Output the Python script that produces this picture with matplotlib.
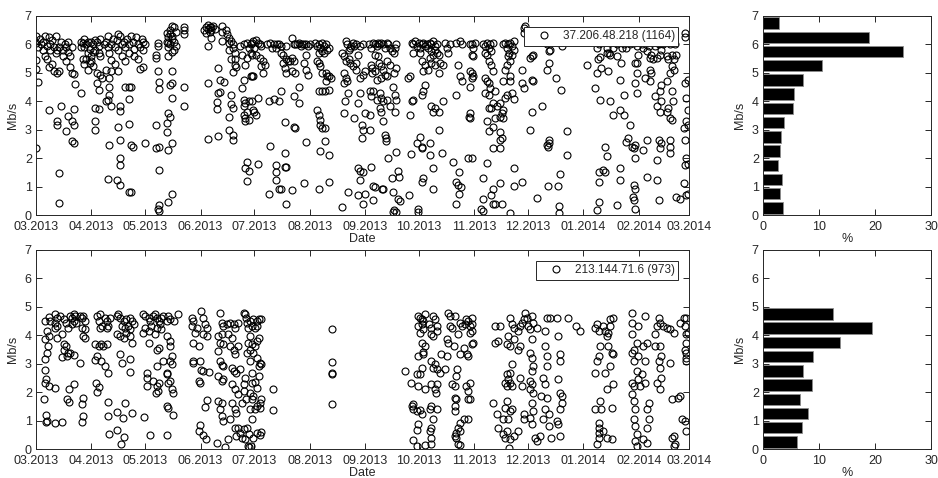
import numpy as np
import matplotlib
matplotlib.use("Agg")
import matplotlib.pyplot as plt
import matplotlib.dates as mdates

plt.rcParams['font.family'] = ['Liberation Sans', 'DejaVu Sans']
plt.rcParams['font.size'] = 9

START = np.datetime64('2013-03-01')
END = np.datetime64('2014-03-01')

# (days since 01.03.2013, Mb/s) for host 37.206.48.218
top_points = [
    # 03.2013
    (0, 6.3), (0, 6.05), (1, 5.9), (0, 5.45), (0, 5.15), (1, 4.67), (0, 2.37),
    (2, 6.2), (3, 6.0), (4, 6.1), (4, 5.8), (5, 5.6), (5, 6.3), (6, 5.95), (6, 5.5), (7, 6.25), (7, 5.2),
    (8, 5.8), (8, 6.0), (9, 6.15), (9, 5.3), (10, 5.9), (10, 5.05), (11, 6.3), (11, 5.7), (12, 5.0),
    (12, 5.8), (13, 5.9), (13, 5.05), (14, 6.1), (15, 5.6), (15, 5.8), (16, 6.0), (17, 5.9), (17, 5.4),
    (18, 6.1), (18, 5.75), (19, 5.6), (19, 5.2), (20, 5.9), (20, 5.0), (21, 4.95), (22, 4.6),
    (7, 3.7), (12, 3.3), (12, 3.15), (14, 3.85), (13, 1.47), (13, 0.42), (17, 2.95), (18, 3.5), (20, 3.3),
    (21, 3.15), (21, 3.72), (20, 2.62), (21, 2.55), (25, 4.28),
    (25, 6.1), (25, 5.9), (26, 6.05), (27, 5.9), (27, 6.2), (28, 6.0), (29, 6.1), (29, 5.7), (30, 5.85),
    (28, 5.5), (26, 5.5), (27, 5.3), (29, 5.1), (30, 5.35), (31, 5.6),
    # 04.2013
    (31, 5.41), (32, 5.23), (34, 5.0), (36, 4.94), (39, 5.11), (37, 4.82), (34, 4.64), (35, 4.4), (41, 4.82),
    (33, 3.76), (35, 3.73), (33, 3.29), (33, 3.0), (41, 4.49), (41, 4.23), (40, 4.05), (39, 4.0), (42, 3.82),
    (47, 3.85), (47, 3.66), (50, 4.52), (52, 4.52), (53, 4.49), (52, 4.09), (46, 3.09), (47, 2.64), (41, 2.46),
    (52, 3.2), (53, 2.46), (54, 2.4), (61, 2.52), (47, 2.0), (47, 1.76), (40, 1.28), (45, 1.22), (47, 1.05),
    (52, 0.81), (53, 0.8),
    (38, 6.0), (39, 6.1), (40, 5.9), (40, 6.3), (41, 5.7), (42, 6.0), (42, 5.45), (43, 6.2), (44, 5.9),
    (45, 6.15), (46, 6.35), (46, 5.8), (47, 6.3), (48, 6.0), (48, 5.6), (49, 6.1), (50, 5.9), (51, 6.2),
    (52, 6.0), (52, 5.7), (53, 6.3), (54, 6.1), (55, 5.85), (56, 6.25), (57, 6.0), (58, 5.9), (59, 6.2),
    (60, 6.1), (60, 5.8), (61, 6.0), (44, 5.3), (46, 5.05), (50, 5.4), (42, 5.05), (55, 5.6), (57, 5.5),
    (58, 5.15), (60, 5.2), (32, 6.0), (33, 5.8), (34, 6.1), (35, 5.95), (36, 6.2), (33, 6.15), (35, 5.7),
    (36, 5.6), (31, 6.1), (32, 5.75),
    # 05.2013
    (67, 5.52), (67, 5.64), (68, 6.05), (68, 5.94), (68, 5.08), (69, 4.68), (69, 4.44), (67, 3.15), (67, 2.34),
    (69, 2.4), (69, 1.58), (68, 0.22), (69, 0.13), (69, 0.34), (74, 0.46), (76, 0.75), (74, 2.29), (73, 2.91),
    (73, 3.23), (75, 3.43), (74, 3.58), (76, 2.54), (76, 4.13), (76, 4.64), (75, 4.58), (76, 5.05), (83, 4.52),
    (83, 3.85),
    (73, 6.1), (73, 6.4), (74, 6.25), (74, 5.9), (75, 6.5), (75, 6.0), (76, 6.65), (76, 6.3), (77, 6.1),
    (77, 5.8), (78, 6.45), (78, 5.95), (74, 5.6), (76, 5.75), (77, 6.6), (76, 6.2), (75, 6.35), (74, 6.05),
    (83, 6.5), (83, 6.35), (83, 6.6),
    # 06.2013
    (95, 6.6), (96, 6.55), (96, 6.7), (97, 6.6), (98, 6.5), (97, 6.45), (99, 6.65), (95, 6.4), (100, 6.55),
    (98, 6.6), (94, 6.5), (96, 5.94), (98, 6.23), (96, 4.64), (96, 2.67),
    (102, 5.17), (103, 4.76), (105, 4.68), (102, 4.29), (103, 4.32), (101, 3.97), (101, 3.72), (102, 2.79),
    (104, 6.64), (104, 6.44), (106, 6.52), (107, 6.37), (104, 6.11), (108, 6.05), (109, 6.11), (110, 6.0),
    (108, 6.23), (110, 5.88), (108, 5.82),
    (109, 5.47), (111, 5.47), (111, 5.29), (110, 5.03), (109, 4.23), (109, 3.9), (110, 3.76), (108, 3.46),
    (108, 3.0), (110, 2.82), (110, 2.64),
    (116, 4.76), (115, 4.46), (116, 4.05), (117, 3.93), (116, 3.82), (116, 3.52), (117, 3.4), (119, 3.34),
    (117, 3.29), (118, 3.64), (119, 4.0), (118, 1.87), (117, 1.67), (119, 1.54), (118, 1.2),
    (114, 5.94), (116, 6.0), (115, 5.64), (118, 6.05), (119, 5.88), (120, 6.0), (120, 5.7), (121, 6.05),
    (117, 5.29), (118, 5.52), (112, 5.2), (120, 4.88), (121, 4.88), (111, 5.7),
    # 07.2013
    (121.5, 6.11), (123, 6.17), (124, 6.05), (125, 6.0), (122, 5.88), (120.5, 5.64), (123, 5.64),
    (126, 5.94), (125, 5.52), (127, 5.41), (126, 5.23), (128, 5.29), (127, 5.0), (121.5, 4.88), (129, 6.0),
    (131, 6.05), (132, 5.88), (133, 6.0), (134, 5.88), (134.5, 6.0), (136, 6.0), (137, 5.94), (137, 5.7),
    (138, 5.64), (138, 5.35), (139, 5.17), (140, 5.47), (141, 5.41), (142, 5.41), (143, 5.52), (144, 5.41),
    (140, 5.0), (143, 5.05), (145, 5.0), (145, 6.0), (146, 6.0), (147, 6.05), (148, 5.94), (148.5, 6.0),
    (144, 6.0), (143, 6.23), (140, 5.94), (150, 6.0), (151, 6.0), (152, 5.94), (151, 5.64), (150, 5.35),
    (151, 5.11), (152, 4.94), (153, 6.0),
    (120.5, 4.0), (121.5, 3.7), (122, 3.64), (123, 3.52), (124, 4.13), (130, 4.0), (133, 4.09), (136, 4.02),
    (137, 4.35), (139, 3.26), (144, 3.11), (144.5, 3.05), (144, 4.17), (147, 3.93), (147, 4.49),
    (124, 1.78), (134, 1.76), (134, 1.5), (134, 1.22), (131, 2.44), (139, 2.17), (139, 1.7), (140, 1.7),
    (136, 0.91), (137, 0.93), (143, 0.87), (140, 0.37), (130, 0.75), (151, 2.56), (150, 1.14),
    # 08.2013
    (156, 6.05), (157, 5.94), (158, 6.0), (159, 5.88), (160, 6.05), (161, 5.94), (162, 6.0), (162.5, 5.82),
    (164, 5.88), (158, 5.7), (160, 5.76), (161, 5.7), (158, 5.35), (159, 5.23), (162, 5.0), (160, 5.0),
    (162.5, 4.88), (162, 4.7), (164, 4.88), (165, 4.82), (157, 5.41),
    (158, 4.35), (160, 4.35), (161.5, 4.35), (164, 4.4), (157, 3.7), (158, 3.52), (158.5, 3.35), (159, 3.17),
    (160, 3.05), (161.5, 3.05), (159, 2.25), (161.5, 2.6), (164, 2.11), (164, 1.17), (158, 0.93),
    (171, 5.7), (172, 5.58), (173, 6.11), (174, 6.0), (175, 5.82), (175.5, 5.88), (176, 5.94), (177, 6.05),
    (178, 5.94), (179, 6.0), (180, 5.64), (179, 5.35), (181, 5.94), (183, 6.0), (173, 5.41), (175, 5.47),
    (172, 5.0), (173, 4.82), (175.5, 5.35), (177, 5.23), (179, 5.11), (181, 4.82), (183, 4.94), (184, 5.05),
    (172, 4.64), (174, 4.7),
    (174.5, 4.29), (172.5, 4.0), (172, 3.58), (181, 4.29), (180, 3.93), (178, 3.4), (182, 3.17), (182.5, 2.99),
    (182, 2.72), (180, 1.64), (181, 1.54), (183, 1.52), (181, 1.22), (174.5, 0.81), (180, 0.69), (183, 0.4),
    (171, 0.28),
    # 09.2013
    (186, 6.0), (187, 5.88), (188.5, 6.05), (189.5, 6.0), (190.5, 5.94), (191, 6.05), (192, 6.0), (193, 6.05),
    (194, 6.0), (195, 5.88), (196, 6.05), (197, 6.0), (198, 5.88), (199, 5.76), (200, 5.7), (200.5, 5.88),
    (201.5, 6.0), (189.5, 5.64), (191, 5.58), (192, 5.35), (193, 5.23), (194, 5.11), (195, 4.94), (196, 4.88),
    (187, 5.29), (188, 5.17), (189.5, 5.05), (190.5, 4.76), (193, 4.82), (196, 5.41), (198, 5.29), (200, 5.0),
    (201.5, 5.17), (188, 5.0),
    (186.5, 4.35), (187.5, 4.17), (188.5, 4.35), (190.5, 4.05), (192.5, 4.29), (193, 4.11), (194, 4.0),
    (196, 4.05), (199.5, 4.52), (200.5, 4.23), (201.5, 4.05), (192.5, 3.76), (193, 3.64), (198, 3.82),
    (200.5, 3.64), (184, 3.58), (186.5, 3.52), (194, 3.29), (186.5, 2.99), (195, 2.82), (195.5, 2.72),
    (195.5, 2.6), (196.5, 1.99), (201.5, 2.23), (202.5, 1.54), (203, 1.34), (199, 1.31), (193.5, 0.93),
    (194, 0.9), (189.5, 0.99), (188.5, 1.01), (187.5, 1.7), (184, 0.75), (188.5, 0.52), (199.5, 0.81),
    (202.5, 0.58), (203.5, 0.48), (199.5, 0.11), (200, 0.16), (201.5, 0.11), (208.5, 0.69), (213.5, 0.2),
    (213.5, 0.11), (215.5, 1.17), (216.5, 1.31), (209.5, 2.13), (214.5, 2.76), (215.5, 2.4), (216, 2.34),
    (220, 2.52),
    # 10.2013
    (210, 6.05), (211, 6.0), (212, 6.11), (213, 5.94), (214, 6.05), (214.5, 5.88), (215.5, 6.0), (216.5, 6.05),
    (217.5, 5.94), (218.5, 6.0), (219, 5.88), (220, 6.05), (221, 6.0), (222, 6.11), (223, 5.94), (224, 6.0),
    (221, 5.76), (222, 5.64), (223, 5.82), (224, 5.7), (220, 5.52), (214.5, 5.7), (215.5, 5.41), (217.5, 5.29),
    (221, 5.35), (223, 5.29), (225, 5.64), (226, 5.35), (227.5, 5.29), (211, 5.7), (216.5, 5.05), (219, 5.11),
    (225, 5.0), (208, 4.82), (209, 4.88), (217.5, 4.58), (216.5, 4.35), (215.5, 4.23), (210, 4.0), (211, 4.05),
    (221, 3.82), (222, 3.64), (225, 3.64), (227.5, 4.0), (223, 3.76),
    (209, 3.52), (213, 2.52), (220, 2.11), (222, 1.64), (222, 0.93), (225, 2.99), (227, 2.17),
    (228.5, 6.05), (229.5, 5.88), (231.5, 6.0), (230.5, 5.7),
    # 11.2013
    (235, 6.05), (237, 6.11), (238, 6.0), (242.5, 6.0), (243.5, 5.64), (236, 5.29), (237, 4.88), (238, 4.7),
    (242.5, 5.05), (243.5, 4.82), (242.5, 4.52), (235, 4.23), (242.5, 3.58), (242, 3.43), (233, 1.87),
    (236.5, 1.52), (235, 1.17), (236, 1.05), (237.5, 0.99), (236.5, 0.75), (235, 0.37), (241.5, 1.99),
    (243.5, 6.0), (244.5, 5.88), (245.5, 6.05), (244.5, 5.58), (243.5, 5.0), (244.5, 4.88), (250, 6.0),
    (251, 5.94), (252, 6.05), (253, 5.88), (254, 6.0), (254.5, 5.76), (255.5, 6.05), (251, 5.7), (252, 5.64),
    (253, 5.41), (254.5, 5.29), (255.5, 5.05), (251, 4.82), (252, 4.7), (253, 4.64), (254, 4.46), (251, 4.29),
    (253, 4.23), (256.5, 4.35), (255.5, 3.93), (261, 6.0), (262, 6.05), (263, 5.88), (264, 6.0), (265, 6.05),
    (266, 5.94), (264.5, 5.7), (264, 5.58), (265, 5.41), (266, 5.64), (267, 5.82), (263, 5.29), (262, 5.11),
    (265, 4.88), (267, 6.11), (272.5, 6.58), (273.5, 6.64), (272.5, 6.41), (271.5, 5.11), (271.5, 4.64),
    (272.5, 4.46), (265, 4.7), (261, 4.7), (263, 4.23), (266, 4.29), (267, 4.09), (262, 4.11), (259.5, 3.93),
    (242.5, 3.4), (253, 3.76), (254.5, 3.76), (257.5, 3.82), (260.5, 3.58), (261, 3.7), (256.5, 3.4),
    (259.5, 3.46), (261, 3.4), (252, 3.29), (253, 2.96), (255.5, 3.11), (259.5, 2.93), (260.5, 2.7),
    (259.5, 2.37), (255.5, 2.34), (259.5, 2.64), (267, 1.64), (267, 1.02), (271.5, 1.17), (259.5, 1.11),
    (255.5, 0.91), (254.5, 0.69), (255.5, 0.37), (256.5, 0.37), (260.5, 0.37), (250, 0.58), (249, 0.22),
    (250, 0.14), (243.5, 1.99), (252, 1.84), (250, 1.31), (265, 0.08),
    # 12.2013
    (277, 5.58), (276, 5.52), (278, 5.64), (277, 4.76), (278, 4.7), (277, 3.64), (276, 2.99), (285.5, 6.0),
    (286.5, 5.76), (287.5, 5.82), (294, 5.94), (285.5, 5.11), (286.5, 5.35), (290.5, 4.82), (293.5, 4.4),
    (283, 3.85), (297, 2.97), (297, 2.11), (293, 1.43), (291.5, 1.02), (286, 1.02), (285.5, 2.46),
    (286.5, 2.52), (286, 2.4), (286.5, 2.64), (280, 0.6), (292.5, 0.31), (292.5, 0.07),
    # 01.2014
    (308, 5.29), (313.5, 5.0), (314, 5.47), (315.5, 5.56), (319, 5.7), (320.5, 5.7), (321, 5.64), (324.5, 5.58),
    (327, 5.35), (316, 5.17), (320, 5.05), (312.5, 4.46), (315.5, 4.05), (321, 4.0), (322.5, 3.52), (326.5, 3.7),
    (328.5, 3.52), (328.5, 4.23), (326.5, 4.76), (332, 3.17), (330, 2.58), (331, 2.7), (333, 2.4), (334, 2.34),
    (335, 2.46), (335, 1.99), (336, 5.35), (335, 5.35), (336, 5.0), (335, 4.64), (336, 4.29), (336.5, 5.64),
    (336, 5.94), (334, 6.05), (332, 6.0), (330, 5.88), (328.5, 6.0), (327.5, 5.88), (326.5, 6.11), (324.5, 6.0),
    (322.5, 5.88), (321, 6.05), (319, 5.88), (314.5, 6.0), (313.5, 5.88), (318, 2.4), (319, 2.08), (314.5, 1.52),
    (317, 1.58), (318, 1.52), (314.5, 1.17), (314.5, 0.46), (313.5, 0.16), (326.5, 1.64), (326.5, 1.22),
    (334, 1.05), (335, 0.93), (333.5, 0.64), (334.5, 0.52), (335, 0.22), (324.5, 0.34),
    # 02.2014
    (338.5, 6.0), (339.5, 5.88), (340.5, 6.05), (341.5, 5.76), (342.5, 5.94), (343, 5.52), (344, 5.64),
    (345, 5.47), (346, 5.94), (347, 5.52), (348, 6.0), (349, 5.64), (349.5, 5.82), (350.5, 6.0), (352.5, 5.58),
    (353.5, 5.47), (354.5, 6.0), (355.5, 5.64), (356.5, 5.47), (357, 6.0), (358, 5.64), (354.5, 5.0),
    (356.5, 5.11), (355.5, 5.23), (343, 5.11), (344, 5.0), (340.5, 4.82), (343, 4.7), (349.5, 4.58),
    (352.5, 4.7), (363, 4.64), (364.5, 4.76), (363.5, 4.11), (364.5, 3.7), (363.5, 3.29), (364.5, 3.17),
    (362, 3.05), (363, 2.64), (363.5, 1.99), (364.5, 1.81), (363, 1.76), (362, 1.11), (363.5, 0.69),
    (364.5, 0.75), (358, 0.64), (360, 0.58), (363, 6.41), (363, 6.25),
    (347, 3.82), (349, 3.64), (349.5, 4.0), (352.5, 3.64), (353.5, 3.76), (354.5, 3.4), (355.5, 3.34),
    (346, 4.17), (349, 4.35), (355.5, 4.35), (356, 4.0), (348, 2.64), (349.5, 2.52), (354.5, 2.64),
    (354.5, 2.4), (354.5, 2.17), (349, 2.34), (347, 1.93), (341.5, 2.64), (339.5, 2.29), (341.5, 1.34),
    (347, 1.22), (348, 0.52),
]

# (days since 01.03.2013, Mb/s) for host 213.144.71.6
bottom_points = [
    # 03.2013
    (5, 4.5), (7, 4.65), (8, 4.5), (10.5, 4.74), (11.5, 4.62), (10.5, 4.44), (10.5, 4.27), (11.5, 4.33),
    (13.5, 4.68), (15.5, 4.56), (17, 4.44), (18, 4.27), (19, 4.68), (20, 4.62), (21, 4.74), (21, 4.5),
    (22, 4.68), (20, 4.38), (22.5, 4.44), (24.5, 4.68), (25.5, 4.62), (26.5, 4.68), (27.5, 4.5), (25.5, 4.27),
    (27.5, 4.21), (26.5, 3.97), (27.5, 3.91),
    (6, 4.15), (7, 3.97), (5, 3.86), (6.5, 3.62), (6, 3.39), (5, 3.15), (5, 2.78), (5.5, 2.45), (5, 2.33),
    (7, 2.22), (10.5, 2.16), (4.5, 1.77), (5.5, 1.18), (5.5, 0.96), (6, 0.98), (10.5, 0.93), (14.5, 0.96),
    (11.5, 3.92), (14.5, 4.03), (15.5, 3.68), (15.5, 3.5), (14.5, 3.24), (17, 3.62), (18, 3.39), (19, 3.36),
    (21, 3.29), (17.5, 3.27), (18.5, 2.1), (21, 2.27), (17.5, 1.77), (18.5, 1.65), (24.5, 3.04), (26.5, 1.8),
    (25.5, 1.57), (26.5, 1.16), (25.5, 0.96),
    # 04.2013
    (34, 4.68), (35, 4.5), (36, 4.74), (37, 4.33), (38.5, 4.62), (39.5, 4.5), (41.5, 4.62), (40.5, 4.33),
    (45, 4.68), (46, 4.74), (47, 4.62), (49, 4.5), (50.5, 4.56), (52.5, 4.62), (53.5, 4.5), (48, 4.33),
    (49.5, 4.27), (51.5, 4.33), (52.5, 4.21), (54.5, 4.38), (45, 4.03), (47, 3.97), (49, 3.92), (50.5, 4.09),
    (52.5, 3.97), (39.5, 4.27), (35.5, 4.27),
    (33, 3.68), (35, 3.62), (36.5, 3.68), (37.5, 3.62), (39.5, 3.68), (34, 3.27), (33, 3.13), (36.5, 3.1),
    (38.5, 2.92), (40, 2.68), (47, 3.33), (48, 3.04), (52.5, 3.15), (52.5, 2.71), (53.5, 3.74), (33.5, 2.33),
    (35, 2.19), (34, 2.02), (40, 1.65), (40.5, 1.16), (45.5, 1.31), (50, 1.61), (48.5, 1.1), (53.5, 1.25),
    (41, 0.52), (45.5, 0.66), (49, 0.43), (47.5, 0.16),
    # 05.2013
    (60, 4.74), (61, 4.68), (63, 4.62), (63.5, 4.5), (65.5, 4.68), (66.5, 4.74), (67.5, 4.62), (68.5, 4.5),
    (69.5, 4.38), (70, 4.62), (71, 4.68), (73, 4.5), (74, 4.68), (75, 4.56), (77, 4.5), (79.5, 4.74),
    (61, 4.27), (63, 4.15), (60, 4.09), (64.5, 4.33), (66.5, 4.03), (67.5, 4.27), (70, 4.21), (63, 3.74),
    (73, 3.97), (75, 3.8), (75, 3.62), (68.5, 3.56), (67.5, 3.5), (71, 3.1), (67.5, 2.92), (62, 2.68),
    (62, 2.51), (62, 2.22), (65.5, 2.39), (67.5, 2.22), (68, 2.04), (67, 1.98), (68.5, 2.33), (73, 2.68),
    (73.5, 2.63), (74, 2.33), (75, 2.39), (76, 2.1), (76.5, 1.98), (76, 3.27), (75, 3.1), (76, 2.98),
    (64, 0.48), (73.5, 0.48), (60.5, 1.14), (73.5, 1.51), (74, 1.45), (76.5, 1.18),
    # 06.2013
    (87, 4.62), (88, 4.5), (87, 4.33), (89, 4.09), (90, 4.27), (92.5, 4.85), (93.5, 4.62), (94.5, 4.38),
    (95.5, 4.27), (93.5, 4.03), (95.5, 3.97), (88, 3.74), (91, 3.62), (87.5, 3.1), (88, 3.01), (91.5, 3.1),
    (92.5, 2.78), (93.5, 2.74), (96.5, 2.71), (91, 2.39), (91.5, 2.33), (95.5, 1.72), (94.5, 1.48),
    (91.5, 0.83), (91, 0.63), (93.5, 0.48), (95, 0.36),
    (103, 4.8), (104, 4.44), (104.5, 4.33), (106.5, 4.38), (108.5, 4.44), (110.5, 4.38), (111, 4.27),
    (113, 4.44), (102, 3.97), (104, 4.03), (107.5, 4.03), (109.5, 3.92), (103, 3.74), (104.5, 3.68),
    (108.5, 3.62), (110.5, 3.5), (111, 3.33), (113, 3.62), (102, 3.45), (103, 3.1), (104, 2.94), (104.5, 2.92),
    (104, 2.39), (104.5, 2.45), (102, 2.57), (109.5, 2.86), (110.5, 2.74), (112, 2.68), (114, 2.8),
    (109.5, 2.27), (111, 2.1), (113, 1.92), (116, 2.27), (117, 2.51), (116, 2.04), (117.5, 1.75), (115, 1.63),
    (102, 1.69), (104, 1.63), (103, 1.4), (104, 1.16), (104.5, 0.98), (109.5, 1.63), (111, 1.4), (112, 1.28),
    (108.5, 1.04), (113, 0.75), (111, 0.75), (114, 0.57), (116, 0.69), (118, 0.75), (119, 0.52), (118.5, 0.11),
    (119, 0.07), (117, 0.34), (115, 0.4), (101, 0.22), (105.5, 0.07), (107.5, 0.34), (112, 0.46),
    (116, 4.8), (117, 4.74), (117.5, 4.62), (118, 4.44), (119.5, 4.5), (118.5, 4.27), (119.5, 3.97),
    (118.5, 3.74), (119.5, 3.5), (118, 3.39), (119.5, 3.1), (120.5, 2.68), (121, 2.33), (119.5, 1.98),
    (120.5, 1.75), (119.5, 1.4), (120.5, 1.04),
    # 07.2013
    (121.5, 4.56), (123.5, 4.5), (124.5, 4.56), (126, 4.58), (120.5, 4.33), (122.5, 4.27), (123.5, 4.33),
    (124.5, 3.92), (123.5, 3.8), (120.5, 3.68), (122.5, 3.62), (121.5, 3.39), (123.5, 3.21), (125, 3.04),
    (126, 2.98), (124.5, 2.92), (122.5, 2.36), (124.5, 2.57), (123.5, 2.16), (121.5, 1.86), (123.5, 1.51),
    (122.5, 1.4), (125, 1.63), (125, 1.45), (126, 1.75), (123.5, 0.57), (125, 0.48), (126, 0.6), (121.5, 0.4),
    (120, 0.1), (132.5, 2.1), (132.5, 1.36),
    # 08.2013
    (165.5, 4.21), (165.5, 3.07), (165.5, 2.68), (165.5, 2.63), (165.5, 1.59),
    # 10.2013
    (206, 2.74), (209.5, 2.31), (210, 1.51), (210.5, 1.6), (211, 1.4), (213, 1.34), (214.5, 1.37),
    (215.5, 1.22), (213.5, 2.22), (213, 2.63), (213.5, 0.87), (213, 0.67), (210.5, 0.32), (213, 0.11),
    (217.5, 0.13), (221, 0.16), (221, 0.4), (220, 0.63), (221, 0.75), (222, 1.04), (221, 1.51), (224, 1.4),
    (220, 1.4), (223, 2.1), (223.5, 1.98), (217.5, 2.1), (221, 2.27), (224, 2.27), (214.5, 2.63), (215.5, 2.86),
    (221, 3.1), (222, 2.86), (224, 2.83), (223, 2.98), (226, 2.68), (228.5, 2.8), (229.5, 3.27), (226.5, 3.33),
    (213.5, 3.27), (216.5, 3.33), (216.5, 3.41), (217.5, 3.62), (215.5, 3.74), (213.5, 4.68), (214.5, 4.62),
    (215.5, 4.56), (216.5, 4.5), (215.5, 4.38), (213.5, 4.33), (216.5, 4.21), (214.5, 4.09), (217.5, 4.74),
    (219.5, 4.38), (221, 4.27), (222, 4.68), (223, 4.56), (224, 4.33), (224, 4.15), (222, 3.97), (221, 4.03),
    (229.5, 3.86), (230.5, 4.8), (231.5, 4.68), (234, 4.68), (232.5, 4.27), (231.5, 4.33), (230.5, 3.74),
    (233.5, 3.62), (236, 4.03), (237, 4.44), (238, 4.33), (240, 4.38), (240.5, 4.56), (241.5, 4.5),
    (242.5, 4.33), (243.5, 4.62), (242.5, 4.09), (243.5, 3.68), (239, 3.56), (237, 3.33), (241.5, 3.27),
    (241, 3.33), (235.5, 2.8), (235, 2.57), (232.5, 2.27), (234, 2.22), (240.5, 2.22), (241.5, 2.04),
    (241.5, 1.75), (234, 1.8), (235, 1.75), (234, 1.51), (234, 1.34), (239, 1.04), (237, 0.93), (236, 0.75),
    (235, 0.57), (234, 0.46), (235, 0.4), (236, 0.16), (237, 0.13), (237, 0.63), (241.5, 1.04),
    # 11.2013
    (243.5, 4.38), (243.5, 4.15), (244, 3.74), (242.5, 2.33), (242.5, 1.75), (255.5, 1.63), (257.5, 1.22),
    (256.5, 3.74), (258.5, 3.8), (256.5, 4.33), (259.5, 4.33), (258.5, 0.75), (261, 0.52), (262, 0.4),
    (263, 0.63), (265, 0.34), (264.5, 0.05), (261, 1.04), (262, 1.45), (263, 1.69), (265, 1.34), (264, 1.04),
    (266, 1.4), (265, 4.62), (266, 4.38), (267, 4.27), (264, 3.97), (265, 3.62), (263, 3.68), (267, 3.86),
    (265, 2.68), (263, 2.63), (264, 2.45), (262, 2.33), (266, 2.98), (265, 2.33), (266, 2.22), (263, 2.22),
    (269.5, 4.15), (270.5, 4.33), (271.5, 4.44), (272.5, 4.56), (270.5, 3.62), (269.5, 3.5), (270.5, 2.51),
    (271.5, 2.22), (272.5, 1.22), (272.5, 1.04), (269.5, 0.63), (267, 0.46),
    # 12.2013
    (273.5, 4.8), (274.5, 4.62), (275, 4.33), (277, 4.68), (276, 4.21), (278, 4.44), (277, 3.86), (276, 3.39),
    (277, 3.21), (278, 2.92), (277, 2.74), (276, 2.39), (277, 2.27), (276, 2.1), (278, 1.98), (277, 1.63),
    (278, 1.34), (276, 1.1), (277, 0.87), (279, 0.4), (280, 0.28), (281.5, 0.46), (280, 4.27), (284.5, 4.15),
    (285.5, 4.62), (284.5, 3.62), (285.5, 3.27), (285.5, 2.92), (283.5, 2.51), (284.5, 2.27), (282.5, 1.86),
    (285.5, 1.8), (284.5, 1.4), (286.5, 1.22), (283.5, 1.04), (286.5, 0.81), (288, 0.4), (291, 4.62),
    (292, 3.97), (293, 3.33), (293, 3.1), (292, 2.45), (293, 1.98), (294, 1.86), (294, 1.63), (293, 1.4),
    (291, 0.98), (292, 0.87), (293, 0.46), (287.5, 4.62), (297.5, 4.62),
    # 01.2014
    (302, 4.33), (304, 4.15), (312.5, 4.27), (313.5, 4.38), (314.5, 4.15), (317, 4.33), (318, 4.15),
    (319, 3.97), (320, 4.09), (321, 4.56), (322.5, 4.62), (321, 4.33), (322, 3.39), (322.5, 3.33), (320, 3.62),
    (315.5, 3.62), (314.5, 3.27), (313.5, 3.1), (312.5, 2.68), (318, 2.68), (319, 2.1), (315.5, 1.69),
    (312.5, 1.4), (316, 1.4), (322, 1.45), (314.5, 0.93), (314.5, 0.75), (314.5, 0.57), (314.5, 0.4),
    (317, 0.63), (319, 0.4), (322, 0.34), (313.5, 0.16), (321, 2.92), (322.5, 2.27),
    # 02.2014
    (333, 4.8), (333, 4.44), (333, 4.03), (334, 3.5), (333, 3.39), (334, 3.1), (333, 2.33), (334, 2.22),
    (333, 1.92), (334, 1.69), (335, 1.4), (334, 1.04), (335, 0.81), (336, 0.52), (335, 0.28), (336, 0.11),
    (336.5, 4.33), (336, 3.74), (336.5, 3.27), (336, 2.74), (336.5, 2.45), (337.5, 2.22), (338.5, 2.63),
    (340.5, 2.33), (339.5, 3.62), (340.5, 3.1), (341.5, 3.74), (340.5, 4.68), (342.5, 1.63), (341.5, 1.4),
    (342.5, 1.04), (341.5, 0.75), (339.5, 0.34), (341.5, 0.22), (346, 4.03), (347, 4.33), (348, 4.62),
    (349, 4.44), (350.5, 4.33), (352.5, 4.27), (354.5, 4.21), (356.5, 4.09), (346, 3.62), (349, 3.62),
    (348, 3.1), (349.5, 3.27), (349, 2.86), (347, 2.33), (349, 2.1), (349.5, 2.51), (354.5, 3.04),
    (355.5, 1.75), (359, 1.8), (360, 1.86), (362, 4.62), (363.5, 4.62), (363, 4.33), (363.5, 4.03),
    (363.5, 3.74), (363, 3.5), (363.5, 3.39), (363.5, 3.21), (363.5, 3.1), (364.5, 4.09), (360, 4.44),
    (361, 1.04), (363, 0.98), (363.5, 0.63), (355.5, 0.4), (356.5, 0.46), (356.5, 0.11), (357, 0.16),
]

top_label = '37.206.48.218 (1164)'
bottom_label = '213.144.71.6 (973)'

# histogram bins (Mb/s, bin centres) and share of measurements (%)
hist_centres = [0.25, 0.75, 1.25, 1.75, 2.25, 2.75, 3.25, 3.75, 4.25, 4.75, 5.25, 5.75, 6.25, 6.75]
top_hist_pct = [3.6, 3.0, 3.4, 2.6, 3.1, 3.3, 3.8, 5.4, 5.6, 7.2, 10.6, 25.0, 18.9, 2.8]
bottom_hist_centres = [0.25, 0.75, 1.25, 1.75, 2.25, 2.75, 3.25, 3.75, 4.25, 4.75]
bottom_hist_pct = [6.1, 7.0, 8.1, 6.6, 8.8, 7.2, 9.0, 13.8, 19.4, 12.5]

AX_COLOR = '#262626'


def style_axes(ax):
    for s in ax.spines.values():
        s.set_color(AX_COLOR)
        s.set_linewidth(0.7)
    ax.tick_params(direction='in', length=4, width=0.7, colors=AX_COLOR,
                   top=True, right=True, labelsize=9, pad=3)
    ax.tick_params(axis='x', pad=4.5)


def scatter_panel(ax, points, label):
    days = np.array([p[0] for p in points])
    vals = np.array([p[1] for p in points])
    dates = START + (days * 24 * 3600).astype('timedelta64[s]')
    ax.plot(dates, vals, linestyle='none', marker='o', markersize=5,
            markerfacecolor='none', markeredgecolor='black', markeredgewidth=0.8,
            label=label)
    ax.set_xlim(START, END)
    ax.set_ylim(0, 7)
    ax.set_yticks(range(8))
    ax.xaxis.set_major_locator(mdates.MonthLocator())
    ax.xaxis.set_major_formatter(mdates.DateFormatter('%m.%Y'))
    ax.set_xlabel('Date', color=AX_COLOR, labelpad=0)
    ax.set_ylabel('Mb/s', color=AX_COLOR, labelpad=4)
    leg = ax.legend(loc='upper right', frameon=True, fancybox=False, framealpha=1,
                    edgecolor=AX_COLOR, borderaxespad=0.9, handletextpad=0.2,
                    borderpad=0.3, handlelength=2.8, fontsize=8.5)
    leg.get_frame().set_linewidth(0.7)
    for t in leg.get_texts():
        t.set_color(AX_COLOR)
    style_axes(ax)


def hist_panel(ax, centres, pct):
    ax.barh(centres, pct, height=0.4, color='black', edgecolor='#8c8c8c', linewidth=0.6)
    ax.set_xlim(0, 30)
    ax.set_ylim(0, 7)
    ax.set_xticks([0, 10, 20, 30])
    ax.set_yticks(range(8))
    ax.set_xlabel('%', color=AX_COLOR, labelpad=0)
    ax.set_ylabel('Mb/s', color=AX_COLOR, labelpad=4)
    style_axes(ax)


W, H = 938, 478
fig = plt.figure(figsize=(W / 100, H / 100), dpi=100)

ax1 = fig.add_axes([36 / W, 1 - 215 / H, 653 / W, 199 / H])
ax2 = fig.add_axes([763 / W, 1 - 215 / H, 168 / W, 199 / H])
ax3 = fig.add_axes([36 / W, 1 - 449 / H, 653 / W, 199 / H])
ax4 = fig.add_axes([763 / W, 1 - 449 / H, 168 / W, 199 / H])

scatter_panel(ax1, top_points, top_label)
hist_panel(ax2, hist_centres, top_hist_pct)
scatter_panel(ax3, bottom_points, bottom_label)
hist_panel(ax4, bottom_hist_centres, bottom_hist_pct)

fig.savefig('out.png', dpi=100)
